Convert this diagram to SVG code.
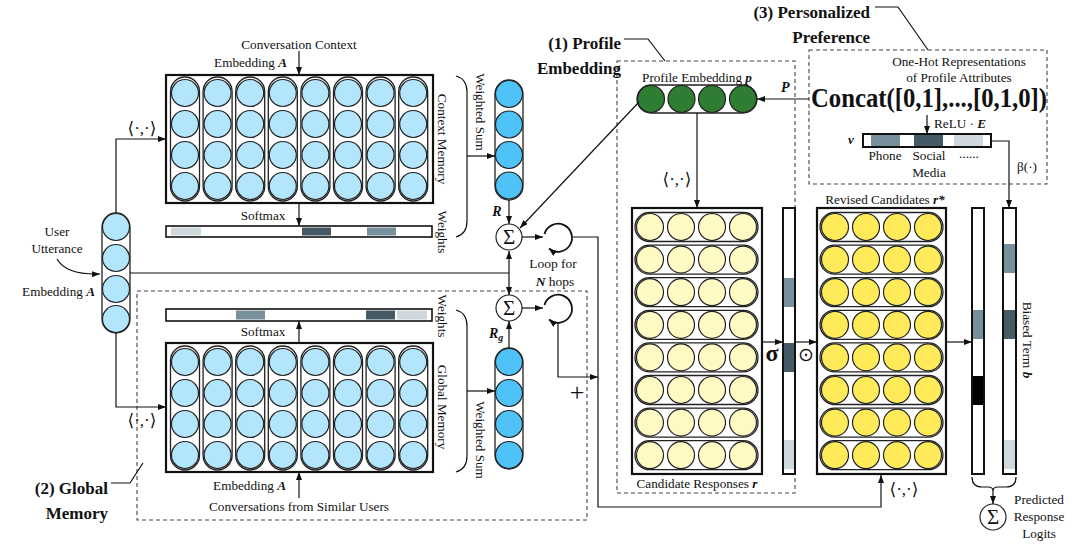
<svg xmlns="http://www.w3.org/2000/svg" width="1083" height="545" viewBox="0 0 1083 545">
<style>
text{font-family:"Liberation Serif","DejaVu Serif",serif;fill:#111;font-size:13.2px}
.b{font-weight:bold}
.bi{font-weight:bold;font-style:italic}
.big{font-size:17px;font-weight:bold}
.mid{text-anchor:middle}
.end{text-anchor:end}
.ang{font-size:17px}
.ln{fill:none;stroke:#111;stroke-width:1.2}
.ar{marker-end:url(#ah)}
.dash{fill:none;stroke:#444;stroke-width:1.1;stroke-dasharray:4 3}
.box{fill:#fff;stroke:#111;stroke-width:2.2}
.pill{fill:#fff;stroke:#222;stroke-width:1.3}
.c{stroke:#222;stroke-width:1.2}
.lb{fill:#b3e5fc}
.db{fill:#4fc3f7}
.gr{fill:#2e7d32}
.ly{fill:#fff9c4}
.yy{fill:#ffeb5a}
.bar{fill:#fff;stroke:#111;stroke-width:2}
.s1{fill:#cfd8dc}.s2{fill:#78909c}.s3{fill:#455a64}.s4{fill:#000}
.sig circle{fill:#fff;stroke:#222;stroke-width:1.2}
.sig text{font-size:21px;text-anchor:middle}
</style>
<defs>
<marker id="ah" markerWidth="8" markerHeight="6" refX="8" refY="3" orient="auto-start-reverse" markerUnits="userSpaceOnUse"><path d="M0,0 L8,3 L0,6 z" fill="#111"/></marker>
<g id="col8"><rect class="pill" x="-14.5" y="-16" width="29" height="124" rx="14.5"/><circle class="c" cx="0" cy="0" r="13.5"/><circle class="c" cx="0" cy="31" r="13.5"/><circle class="c" cx="0" cy="62" r="13.5"/><circle class="c" cx="0" cy="93" r="13.5"/></g>
<g id="row4"><rect class="pill" x="-15" y="-14.5" width="123" height="29" rx="14.5"/><circle class="c" cx="0" cy="0" r="13.5"/><circle class="c" cx="31" cy="0" r="13.5"/><circle class="c" cx="62" cy="0" r="13.5"/><circle class="c" cx="93" cy="0" r="13.5"/></g>
</defs>

<!-- Context memory -->
<g id="context-memory">
<rect class="box" x="166" y="75" width="267" height="128"/>
<g class="lb">
<use href="#col8" x="185" y="93"/><use href="#col8" x="217.6" y="93"/><use href="#col8" x="250.2" y="93"/><use href="#col8" x="282.8" y="93"/>
<use href="#col8" x="315.4" y="93"/><use href="#col8" x="348" y="93"/><use href="#col8" x="380.6" y="93"/><use href="#col8" x="413.2" y="93"/>
</g>
<text x="299" y="49" class="mid">Conversation Context</text>
<text x="287" y="67" class="end">Embedding <tspan class="bi">A</tspan></text>
<text transform="translate(438,139) rotate(90)" class="mid">Context Memory</text>
</g>
<g id="context-weights">
<rect class="bar" x="166" y="226" width="266" height="11" style="stroke-width:1.6"/>
<rect class="s1" x="171" y="227.5" width="30" height="8"/><rect class="s3" x="302" y="227.5" width="29" height="8"/><rect class="s2" x="367" y="227.5" width="29" height="8"/>
<text x="263" y="220" class="mid">Softmax</text>
<text transform="translate(438,232) rotate(90)" class="mid">Weights</text>
<path class="ln" d="M456,76 Q467,79 467,92 V221 Q467,234 456,237"/>
<text transform="translate(476,112) rotate(90)" class="mid">Weighted Sum</text>
</g>
<g id="R">
<rect class="pill" x="495" y="80" width="28" height="120" rx="14"/>
<g class="db"><circle class="c" cx="509" cy="94" r="13.5"/><circle class="c" cx="509" cy="124.5" r="13.5"/><circle class="c" cx="509" cy="155" r="13.5"/><circle class="c" cx="509" cy="185.5" r="13.5"/></g>
<text x="497" y="216" class="bi mid" style="font-size:14px">R</text>
</g>

<!-- Global memory -->
<g id="global-memory">
<rect class="dash" x="137" y="291" width="450" height="229"/>
<rect class="box" x="166" y="343" width="267" height="129"/>
<g class="lb">
<use href="#col8" x="185" y="362"/><use href="#col8" x="217.6" y="362"/><use href="#col8" x="250.2" y="362"/><use href="#col8" x="282.8" y="362"/>
<use href="#col8" x="315.4" y="362"/><use href="#col8" x="348" y="362"/><use href="#col8" x="380.6" y="362"/><use href="#col8" x="413.2" y="362"/>
</g>
<text x="286" y="490" class="end">Embedding <tspan class="bi">A</tspan></text>
<text x="299" y="511" class="mid">Conversations from Similar Users</text>
<text transform="translate(438,407) rotate(90)" class="mid">Global Memory</text>
<text x="108" y="494" class="big end">(2) Global</text>
<text x="108" y="519" class="big end">Memory</text>
</g>
<g id="global-weights">
<rect class="bar" x="166" y="309" width="266" height="12" style="stroke-width:1.6"/>
<rect class="s2" x="236" y="310.5" width="29" height="9"/><rect class="s3" x="366" y="310.5" width="29" height="9"/><rect class="s1" x="397" y="310.5" width="30" height="9"/>
<text x="263" y="336" class="mid">Softmax</text>
<text transform="translate(438,316) rotate(90)" class="mid">Weights</text>
<path class="ln" d="M456,310 Q467,313 467,326 V456 Q467,469 456,472"/>
<text transform="translate(476,440) rotate(90)" class="mid">Weighted Sum</text>
</g>
<g id="Rg">
<rect class="pill" x="495" y="348" width="28" height="121" rx="14"/>
<g class="db"><circle class="c" cx="509" cy="362" r="13.5"/><circle class="c" cx="509" cy="393" r="13.5"/><circle class="c" cx="509" cy="424" r="13.5"/><circle class="c" cx="509" cy="455" r="13.5"/></g>
<text x="489" y="338" class="bi" style="font-size:14px">R<tspan dy="3" style="font-size:10px">g</tspan></text>
</g>

<!-- User utterance -->
<g id="user">
<rect class="pill" x="102" y="213" width="28" height="120" rx="14"/>
<g class="lb"><circle class="c" cx="116" cy="227" r="13.5"/><circle class="c" cx="116" cy="258" r="13.5"/><circle class="c" cx="116" cy="289" r="13.5"/><circle class="c" cx="116" cy="319" r="13.5"/></g>
<text x="57" y="236" class="mid">User</text>
<text x="57" y="253" class="mid">Utterance</text>
<text x="95" y="296" class="end">Embedding <tspan class="bi">A</tspan></text>
</g>

<!-- Sigma nodes and loops -->
<g id="sigma-top" class="sig"><circle cx="509" cy="237" r="13"/><text x="509" y="244">Σ</text></g>
<g id="sigma-bottom" class="sig"><circle cx="509" cy="308" r="13"/><text x="509" y="315">Σ</text></g>
<g id="loop-top"><path class="ln ar" style="stroke-width:1.8" d="M544.5,234 A14,14 0 1 1 549,248.5"/></g>
<g id="loop-bottom"><path class="ln ar" style="stroke-width:1.8" d="M544.5,305 A14,14 0 1 1 549,319.5"/></g>
<g id="loop-label"><text x="553" y="268" class="mid" style="font-size:13.5px">Loop for</text><text x="555" y="286" class="mid" style="font-size:13.5px"><tspan class="bi">N</tspan> hops</text></g>
<text x="577" y="401" class="mid" style="font-size:26px">+</text>

<!-- Profile embedding -->
<g id="profile-embedding">
<rect class="dash" x="617" y="61" width="178" height="432"/>
<rect class="pill" x="637" y="85" width="120" height="28" rx="14"/>
<g class="gr"><circle class="c" cx="651" cy="99" r="13.5"/><circle class="c" cx="681.5" cy="99" r="13.5"/><circle class="c" cx="712" cy="99" r="13.5"/><circle class="c" cx="743" cy="99" r="13.5"/></g>
<text x="697" y="82" class="mid">Profile Embedding <tspan class="bi">p</tspan></text>
<text x="621" y="49" class="big end">(1) Profile</text>
<text x="621" y="74" class="big end">Embedding</text>
<text x="781" y="92" class="bi" style="font-size:14px">P</text>
</g>

<!-- Personalized preference -->
<g id="personalized">
<rect class="dash" x="809" y="50" width="238" height="134"/>
<text x="870" y="18" class="big end">(3) Personalized</text>
<text x="870" y="43" class="big end">Preference</text>
<text x="959" y="66" class="mid">One-Hot Representations</text>
<text x="959" y="82" class="mid">of Profile Attributes</text>
<text x="811" y="107" style="font-size:27px;font-weight:bold" textLength="236" lengthAdjust="spacingAndGlyphs">Concat([0,1],...,[0,1,0])</text>
<text x="934" y="128">ReLU · <tspan class="bi">E</tspan></text>
<rect class="bar" x="863" y="134" width="128" height="13"/>
<rect class="s2" x="871" y="135" width="29" height="11"/><rect class="s3" x="914" y="135" width="29" height="11"/><rect class="s1" x="954" y="135" width="29" height="11"/>
<text x="848" y="144" class="bi" style="font-size:13px">v</text>
<text x="885" y="160" class="mid">Phone</text>
<text x="929" y="160" class="mid">Social</text>
<text x="929" y="177" class="mid">Media</text>
<text x="969" y="158" class="mid">......</text>
<text x="1027" y="171" class="mid">β(·)</text>
</g>

<!-- Candidate responses -->
<g id="candidates">
<rect class="box" x="632" y="208" width="130" height="266"/>
<g class="ly">
<use href="#row4" x="650" y="227"/><use href="#row4" x="650" y="259.6"/><use href="#row4" x="650" y="292.2"/><use href="#row4" x="650" y="324.8"/>
<use href="#row4" x="650" y="357.4"/><use href="#row4" x="650" y="390"/><use href="#row4" x="650" y="422.6"/><use href="#row4" x="650" y="455.2"/>
</g>
<text x="697" y="488" class="mid">Candidate Responses <tspan class="bi">r</tspan></text>
</g>
<g id="sigma-bar">
<rect class="bar" x="783" y="208" width="12" height="266"/>
<rect class="s2" x="784" y="278" width="10" height="29"/><rect class="s3" x="784" y="343" width="10" height="29"/><rect class="s1" x="784" y="440" width="10" height="29"/>
<text x="772" y="361" class="mid b" style="font-size:24px">σ</text>
<text x="806" y="361" class="mid" style="font-size:19px;font-family:'DejaVu Sans',sans-serif">⊙</text>
</g>

<!-- Revised candidates -->
<g id="revised">
<rect class="box" x="817" y="208" width="129" height="266"/>
<g class="yy">
<use href="#row4" x="835" y="227"/><use href="#row4" x="835" y="259.6"/><use href="#row4" x="835" y="292.2"/><use href="#row4" x="835" y="324.8"/>
<use href="#row4" x="835" y="357.4"/><use href="#row4" x="835" y="390"/><use href="#row4" x="835" y="422.6"/><use href="#row4" x="835" y="455.2"/>
</g>
<text x="885" y="204" class="mid">Revised Candidates <tspan class="bi">r*</tspan></text>
</g>
<g id="logit-bar">
<rect class="bar" x="972" y="208" width="12" height="266"/>
<rect class="s2" x="973" y="310" width="10" height="29"/><rect class="s4" x="973" y="376" width="10" height="29"/>
</g>
<g id="bias-bar">
<rect class="bar" x="1003" y="208" width="13" height="266"/>
<rect class="s2" x="1004" y="244" width="11" height="29"/><rect class="s3" x="1004" y="310" width="11" height="29"/><rect class="s1" x="1004" y="440" width="11" height="29"/>
<text transform="translate(1023,340) rotate(90)" class="mid">Biased Term <tspan class="bi">b</tspan></text>
</g>
<g id="output">
<g class="sig"><circle cx="993" cy="517" r="13"/><text x="993" y="524">Σ</text></g>
<text x="1039" y="504" class="mid">Predicted</text>
<text x="1039" y="521" class="mid">Response</text>
<text x="1039" y="538" class="mid">Logits</text>
</g>

<!-- Connectors -->
<g id="connectors">
<line class="ln ar" x1="299" y1="51" x2="299" y2="75"/>
<line class="ln ar" x1="299" y1="203" x2="299" y2="226"/>
<line class="ln ar" x1="299" y1="343" x2="299" y2="321"/>
<line class="ln ar" x1="299" y1="498" x2="299" y2="472"/>
<polyline class="ln ar" points="116,213 116,139 166,139"/>
<polyline class="ln ar" points="116,333 116,407 166,407"/>
<text x="142" y="134" class="mid ang">⟨·,·⟩</text>
<text x="142" y="426" class="mid ang">⟨·,·⟩</text>
<line class="ln" x1="130" y1="273" x2="509" y2="273"/>
<path class="ln ar" d="M57,259 Q66,275 100,274"/>
<line class="ln ar" x1="467" y1="156" x2="495" y2="156"/>
<line class="ln ar" x1="467" y1="391" x2="495" y2="391"/>
<line class="ln ar" x1="509" y1="200" x2="509" y2="224"/>
<line class="ln ar" x1="509" y1="348" x2="509" y2="321"/>
<line class="ln ar" x1="509" y1="251" x2="509" y2="295" marker-start="url(#ah)"/>
<line class="ln ar" x1="522" y1="237" x2="543" y2="237"/>
<line class="ln ar" x1="522" y1="308" x2="543" y2="308"/>
<line class="ln ar" x1="639" y1="102" x2="520" y2="228"/>
<polyline class="ln ar" points="573,237 598,237 598,507 881,507 881,475"/>
<polyline class="ln ar" points="558,322 558,377 598,377"/>
<text x="904" y="495" class="mid ang">⟨·,·⟩</text>
<line class="ln ar" x1="697" y1="113" x2="697" y2="208"/>
<text x="677" y="185" class="mid ang">⟨·,·⟩</text>
<line class="ln ar" x1="809" y1="99" x2="757" y2="99"/>
<line class="ln ar" x1="927" y1="115" x2="927" y2="134"/>
<polyline class="ln ar" points="991,141 1009,141 1009,208"/>
<line class="ln ar" x1="762" y1="342" x2="783" y2="342"/>
<line class="ln ar" x1="795" y1="342" x2="817" y2="342"/>
<line class="ln ar" x1="946" y1="342" x2="972" y2="342"/>
<path class="ln" d="M972,477 Q972,487 982,487 H988 Q993,487 993,491 Q993,487 998,487 H1006 Q1016,487 1016,477"/>
<line class="ln ar" x1="993" y1="491" x2="993" y2="504"/>
<polyline class="ln" points="111,483 130,483 143,463"/>
<polyline class="ln" points="624,39 648,39 665,61"/>
<polyline class="ln" points="875,7 898,7 928,50"/>
</g>
</svg>
